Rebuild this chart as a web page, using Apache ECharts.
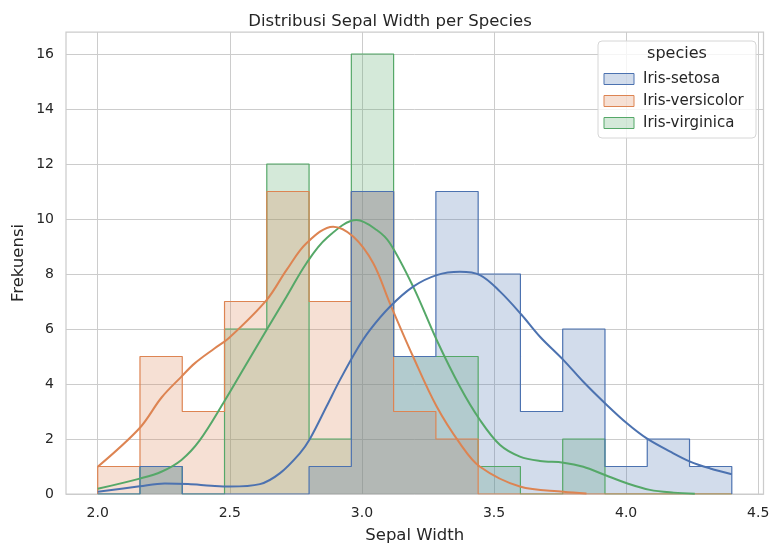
<!DOCTYPE html>
<html>
<head>
<meta charset="utf-8">
<script src="https://cdn.jsdelivr.net/npm/echarts@6/dist/echarts.min.js"></script>
<style>
  html, body { margin: 0; padding: 0; background: #fff; }
  #main { width: 780px; height: 556px; }
</style>
</head>
<body>
<div id="main"></div>
<script>
// bin edges (15 bins, common to all species)
const binEdges = [2.0, 2.16, 2.32, 2.48, 2.64, 2.80, 2.96, 3.12, 3.28, 3.44, 3.60, 3.76, 3.92, 4.08, 4.24, 4.40];
const setosaCounts = [0, 1, 0, 0, 0, 1, 11, 5, 11, 8, 3, 6, 1, 2, 1];
const versicolorCounts = [1, 5, 3, 7, 11, 7, 11, 3, 2, 0, 0, 0, 0, 0, 0];
const virginicaCounts = [0, 1, 0, 6, 12, 2, 16, 5, 5, 1, 0, 2, 0, 0, 0];

// kde curves (count scale)
const setosaKdeX = [2.00, 2.159, 2.254, 2.342, 2.43, 2.50, 2.614, 2.689, 2.765, 2.803, 2.866, 2.917, 2.98, 3.03, 3.106, 3.194, 3.283, 3.371, 3.447, 3.523, 3.605, 3.674, 3.763, 3.838, 3.92, 4.003, 4.078, 4.167, 4.242, 4.318, 4.40];
const setosaKdeY = [0.08, 0.28, 0.38, 0.36, 0.30, 0.27, 0.36, 0.75, 1.48, 2.00, 3.18, 4.15, 5.24, 5.96, 6.81, 7.54, 7.96, 8.08, 7.96, 7.36, 6.51, 5.72, 4.87, 4.08, 3.30, 2.57, 2.02, 1.54, 1.18, 0.93, 0.72];
const versicolorKdeX = [2.00, 2.159, 2.241, 2.317, 2.367, 2.443, 2.50, 2.639, 2.715, 2.79, 2.891, 2.967, 3.043, 3.106, 3.194, 3.283, 3.371, 3.447, 3.598, 3.763, 3.85];
const versicolorKdeY = [0.99, 2.40, 3.50, 4.27, 4.75, 5.30, 5.70, 7.05, 8.15, 9.12, 9.72, 9.36, 8.39, 6.93, 4.99, 3.18, 1.84, 0.99, 0.27, 0.08, 0.02];
const virginicaKdeX = [2.00, 2.159, 2.241, 2.317, 2.386, 2.475, 2.555, 2.639, 2.715, 2.79, 2.866, 2.98, 3.056, 3.106, 3.194, 3.283, 3.371, 3.447, 3.523, 3.598, 3.674, 3.763, 3.838, 3.92, 4.003, 4.09, 4.18, 4.26];
const virginicaKdeY = [0.19, 0.56, 0.81, 1.24, 1.95, 3.30, 4.60, 5.96, 7.18, 8.39, 9.30, 9.96, 9.60, 9.12, 7.54, 5.60, 3.90, 2.69, 1.78, 1.36, 1.20, 1.14, 0.99, 0.69, 0.39, 0.15, 0.05, 0.01];

const xTicks = [2.0, 2.5, 3.0, 3.5, 4.0, 4.5];
const yTicks = [0, 2, 4, 6, 8, 10, 12, 14, 16];
const speciesNames = ['Iris-setosa', 'Iris-versicolor', 'Iris-virginica'];
const colors = ['#4c72b0', '#dd8452', '#55a868'];
const fills = ['rgba(76,114,176,0.25)', 'rgba(221,132,82,0.25)', 'rgba(85,168,104,0.25)'];

const FONT = 'DejaVu Sans';
const TXT = '#262626';

function stepPoints(counts) {
    const n = counts.length;
    const pts = [[binEdges[0], 0]];
    for (let i = 0; i < n; i++) pts.push([binEdges[i], counts[i]]);
    pts.push([binEdges[n], counts[n - 1]]);
    pts.push([binEdges[n], 0]);
    return pts;
}

function zip(xs, ys) {
    return xs.map((x, i) => [x, ys[i]]);
}

const allCounts = [setosaCounts, versicolorCounts, virginicaCounts];
const allKde = [zip(setosaKdeX, setosaKdeY), zip(versicolorKdeX, versicolorKdeY), zip(virginicaKdeX, virginicaKdeY)];

let series = [];
// seaborn draws the last hue first
for (let i = 2; i >= 0; i--) {
    series.push({
        name: speciesNames[i],
        type: 'line',
        step: 'end',
        symbol: 'none',
        data: stepPoints(allCounts[i]),
        lineStyle: { color: colors[i], width: 1.2 },
        areaStyle: { color: fills[i], opacity: 1 },
        z: 2
    });
}
for (let i = 2; i >= 0; i--) {
    series.push({
        name: speciesNames[i] + ' kde',
        type: 'line',
        smooth: 0.35,
        symbol: 'none',
        data: allKde[i],
        lineStyle: { color: colors[i], width: 2 },
        z: 3
    });
}

// legend drawn by hand (patch style like matplotlib)
let legendGraphics = [
    {
        type: 'rect',
        shape: { x: 598, y: 41, width: 158, height: 97, r: 4 },
        style: { fill: 'rgba(255,255,255,0.8)', stroke: '#d6d6d6', lineWidth: 1 },
        z: 10
    },
    {
        type: 'text',
        x: 677, y: 54,
        style: { text: 'species', font: '16px "DejaVu Sans"', fill: TXT, align: 'center', verticalAlign: 'middle' },
        z: 11
    }
];
speciesNames.forEach((name, i) => {
    const cy = 79 + i * 22;
    legendGraphics.push({
        type: 'rect',
        shape: { x: 604, y: cy - 5.5, width: 30, height: 11 },
        style: { fill: fills[i], stroke: colors[i], lineWidth: 1 },
        z: 11
    });
    legendGraphics.push({
        type: 'text',
        x: 643, y: cy,
        style: { text: name, font: '15px "DejaVu Sans"', fill: TXT, align: 'left', verticalAlign: 'middle' },
        z: 11
    });
});

let myChart = echarts.init(document.getElementById('main'), null, { renderer: 'canvas' });

let option = {
    animation: false,
    backgroundColor: '#ffffff',
    textStyle: { fontFamily: FONT },
    title: {
        text: 'Distribusi Sepal Width per Species',
        left: 'center',
        top: 8,
        textStyle: { fontFamily: FONT, fontSize: 16.5, fontWeight: 'normal', color: TXT }
    },
    grid: {
        left: 66, top: 32, right: 16.5, bottom: 62,
        show: true,
        borderColor: '#cccccc',
        borderWidth: 1.25,
        backgroundColor: 'transparent'
    },
    xAxis: {
        type: 'value',
        min: 1.88,
        max: 4.52,
        name: 'Sepal Width',
        nameLocation: 'middle',
        nameGap: 33,
        nameMoveOverlap: false,
        nameTextStyle: { fontFamily: FONT, fontSize: 16.5, color: TXT },
        axisLine: { show: false },
        axisTick: { show: false, customValues: xTicks },
        axisLabel: {
            customValues: xTicks,
            margin: 12,
            fontFamily: FONT, fontSize: 14, color: TXT,
            formatter: (v) => v.toFixed(1)
        },
        splitLine: { show: true, lineStyle: { color: '#cccccc', width: 1 } }
    },
    yAxis: {
        type: 'value',
        min: 0,
        max: 16.8,
        name: 'Frekuensi',
        nameLocation: 'middle',
        nameGap: 39,
        nameMoveOverlap: false,
        nameTextStyle: { fontFamily: FONT, fontSize: 16.5, color: TXT },
        axisLine: { show: false },
        axisTick: { show: false, customValues: yTicks },
        axisLabel: {
            customValues: yTicks,
            margin: 12,
            fontFamily: FONT, fontSize: 14, color: TXT
        },
        splitLine: { show: true, lineStyle: { color: '#cccccc', width: 1 } }
    },
    graphic: legendGraphics,
    series: series
};
myChart.setOption(option);
</script>
</body>
</html>
